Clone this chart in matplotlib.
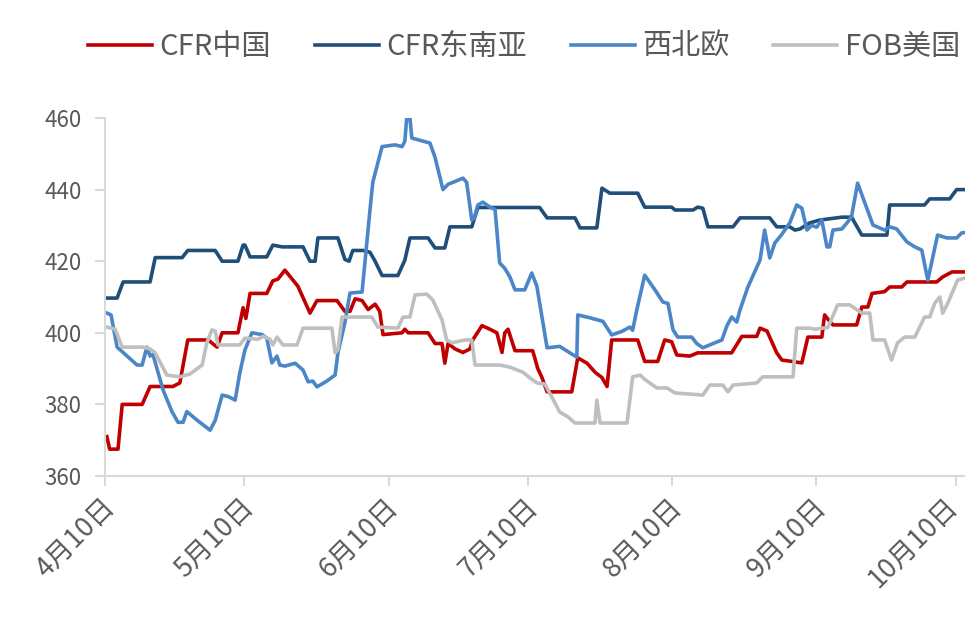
import matplotlib
matplotlib.use("Agg")
import matplotlib.pyplot as plt
from matplotlib.transforms import ScaledTranslation

plt.rcParams['font.family'] = ['Noto Sans CJK SC', 'DejaVu Sans']

# x values: days since 4月10日
tick_days = [0, 30, 61, 91, 122, 153, 183]
tick_labels = ["4月10日", "5月10日", "6月10日", "7月10日", "8月10日", "9月10日", "10月10日"]
y_ticks = [360, 380, 400, 420, 440, 460]

cn_days = [0.4, 1, 2.8, 3.7, 8, 9.7, 14.6, 16.1, 17.8, 22.2, 24.1, 25.2, 28.6, 29.7, 30.3, 31.2,
           34.8, 36.1, 37.2, 38.7, 41.5, 44.1, 45.6, 49.9, 51.6, 52.7, 53.8, 55.3, 56.6, 58.1,
           59.1, 59.8, 63.9, 64.5, 65.2, 69.5, 71, 72.5, 73.1, 73.8, 75.3, 77, 78.5, 79.1, 81.1,
           82.8, 84.3, 85.4, 86, 86.7, 88.2, 92, 93.1, 94, 95.1, 100.4, 101.7, 103.7, 105.4,
           106.9, 108, 109, 114.6, 116.1, 118.9, 120.4, 121.9, 123, 125.8, 127.5, 134.8, 137,
           140.2, 140.9, 142.4, 144.5, 145.6, 149.9, 151.2, 154.2, 154.8, 156, 156.6, 161.7,
           162.8, 164.1, 165, 167.7, 168.8, 171.4, 172.5, 178.9, 180.2, 182.2, 185]
cn_vals = [371, 367.5, 367.5, 380, 380, 385, 385, 386, 398, 398, 396, 400, 400, 407, 404, 411,
           411, 414.5, 415, 417.5, 413, 405.5, 409, 409, 406, 406, 409.5, 409, 406.5, 408,
           406, 399.5, 400, 401, 400, 400, 397, 397, 391.5, 397, 395.5, 394.5, 395.5, 398, 402,
           401, 400, 394.5, 400, 401, 395, 395, 390, 387.5, 383.5, 383.5, 393, 391.5, 389,
           387.5, 385, 398, 398, 392, 392, 398, 397.5, 393.8, 393.5, 394.4, 394.4, 399,
           399, 401.3, 400.5, 394.4, 392.4, 391.6, 398.8, 398.8, 405, 403, 402.2, 402.2,
           407.2, 407.2, 411, 411.5, 412.8, 412.8, 414.2, 414.2, 415.6, 417, 417]

sea_days = [0.4, 2.6, 3.9, 9.7, 10.8, 16.6, 17.8, 23.7, 25.2, 28.6, 29.7, 30.1, 31.2, 34.8, 36.1,
            38.1, 42.6, 44.1, 45.2, 45.8, 50.1, 51.6, 52.5, 53.3, 55.5, 57, 58.1, 59.6, 63,
            64.5, 65.6, 69.5, 71, 73.1, 74.2, 78.9, 80.2, 93.5, 95.1, 101.1, 102.2, 105.8,
            106.9, 108.6, 114.6, 116.1, 121.9, 122.6, 126.5, 127.5, 128.6, 129.7, 135.1, 136.6,
            143, 144.5, 147.3, 148.4, 149.5, 151.6, 153.8, 158.5, 160.6, 162.8, 168.2, 168.8,
            176.3, 177.4, 181.7, 183.2, 185]
sea_vals = [409.7, 409.7, 414.2, 414.2, 421, 421, 423, 423, 420, 420, 424.5, 424.5, 421.2, 421.2, 424.5,
            424, 424, 420, 420, 426.5, 426.5, 420.5, 420, 423, 423, 422.5, 420, 416, 416,
            420.3, 426.5, 426.5, 423.7, 423.7, 429.6, 429.6, 435, 435, 432.1, 432.1, 429.3, 429.3,
            440.4, 439, 439, 435.1, 435.1, 434.3, 434.3, 435.1, 434.8, 429.6, 429.6, 432.1,
            432.1, 429.6, 429.6, 428.7, 429, 430.7, 431.5, 432.3, 432.3, 427.3, 427.3, 435.7,
            435.7, 437.4, 437.4, 440, 440]

nwe_days = [0.4, 1.3, 2.6, 3.9, 6.9, 8, 9, 9.7, 10.3, 12.5, 14.4, 15.7, 16.8, 17.6, 19.8, 22.6,
            23.7, 25.2, 26.5, 28, 29, 30.1, 31.6, 33.8, 34.8, 35.9, 37, 37.6, 38.7, 40.9, 42.6,
            43.7, 44.7, 45.6, 47.7, 49.5, 50.1, 51.6, 52.7, 55.3, 55.9, 57, 57.6, 59.6, 62.4,
            63.9, 64.5, 64.9, 65.6, 66, 67.1, 69.9, 71, 72.7, 73.8, 74.8, 77, 77.8, 78.9, 79.4,
            80.2, 81.3, 82.8, 83.9, 84.9, 86, 87.1, 88.2, 90.3, 91.8, 92.9, 95.1, 97.8, 101.5,
            101.7, 104.3, 106, 107.1, 109, 111.2, 112.9, 113.5, 114.4, 116.1, 118.3, 120, 121.1,
            122.2, 123.2, 126.2, 127.3, 128.6, 130.8, 132.7, 133.8, 134.8, 135.9, 136.6, 138.3,
            140.9, 141.9, 143, 144.1, 145.6, 147.3, 148.8, 149.9, 151, 152, 153.1, 154.2, 155.3,
            155.9, 156.6, 158.5, 159.8, 160.6, 161.9, 163.4, 165.2, 167.7, 168.8, 170.3, 172.5,
            174.2, 175.7, 177, 179.1, 181.1, 183.2, 184.3, 185]
nwe_vals = [405.5, 405, 396, 394.5, 391, 391, 396, 393.5, 394, 384, 378, 375, 375, 378, 375.6, 372.8,
            375.5, 382.6, 382.2, 381.2, 388.8, 395.2, 400, 399.5, 398.5, 391.6, 393.5, 391, 390.7, 391.5, 389.6,
            386.3, 386.5, 384.9, 386.5, 388.2, 394.4, 402.8, 411.1, 411.4, 419.5, 434.3, 442, 452, 452.5,
            452, 453.5, 460, 460, 454.4, 454, 453, 449, 440, 441.5, 442, 443.2, 442, 431.5, 432,
            435.7, 436.5, 435.1, 434.5, 419.5, 418, 415.6, 412, 412, 416.7, 413, 395.8, 396.2, 393.2,
            405, 404.2, 403.6, 403.2, 399.4, 400.4, 401.6, 400.7, 406.4, 416.1, 412, 408.6, 408.2,
            400.8, 398.8, 398.8, 397, 395.8, 397, 398, 402, 404.4, 403, 406.4, 412.8,
            420.3, 428.7, 420.9, 425.1, 427.5, 430.7, 435.7, 434.8, 428.7, 430, 429.5, 431.5, 424,
            424, 428.7, 429, 431, 432.5, 441.8, 436.5, 430.1, 428.7, 429.6, 429, 425.4,
            424, 423.1, 414.7, 427.3, 426.5, 426.5, 427.9, 428]

us_days = [0.4, 2.2, 3.7, 8.2, 9.7, 10.8, 13.3, 16.1, 18.3, 20.9, 21.9, 23, 23.7, 24.3, 29, 30.1,
           32.9, 34, 35.5, 36.1, 37, 38.3, 41.3, 42.6, 48.8, 49.5, 50.1, 51, 57.4, 58.7, 63, 64.1,
           65.6, 66.7, 69.2, 70.5, 72.5, 73.5, 74.6, 77.4, 78.9, 79.6, 84.9, 87.1, 89.9, 91.4,
           92.9, 94.6, 96.1, 97.8, 99.6, 101.1, 105.4, 105.8, 106.5, 112.3, 113.5, 115.1, 116.1,
           118.7, 120.9, 122.6, 128.6, 130.1, 132.9, 134, 135.1, 140.2, 141.5, 148, 148.8, 151.6,
           152.7, 155.5, 157.6, 160.2, 162.8, 164.5, 165.2, 167.7, 169.2, 170.5, 172, 174.2,
           176.3, 177.4, 178.5, 179.6, 180.2, 181.3, 183.4, 185]
us_vals = [401.6, 401, 396, 396, 395.5, 394.4, 388.2, 387.7, 388.5, 391, 397.2, 400.8, 400.5, 396.6, 396.6, 398.5,
           398.2, 399, 398.2, 396.6, 398.8, 396.6, 396.6, 401.3, 401.3, 394.4, 395.2, 404.4, 404.4, 401.6, 401.3, 404.4,
           404.4, 410.6, 410.8, 409.2, 403.6, 398, 397.2, 398, 398, 391, 391, 390.4, 389, 387.4,
           386, 385.7, 382.1, 377.9, 376.5, 374.8, 374.8, 381.2, 374.8, 374.8, 387.7, 388.2, 387,
           384.6, 384.6, 383.2, 382.6, 385.4, 385.4, 383.5, 385.4, 386, 387.7, 387.7, 401.3, 401.3,
           401, 401.5, 407.8, 407.8, 405.5, 405.5, 398, 398, 392.4, 397.2, 398.8, 398.8,
           404.4, 404.4, 408.3, 410, 405.5, 408.3, 414.7, 415.3]

series_names = ["CFR中国", "CFR东南亚", "西北欧", "FOB美国"]
colors = ["#C00000", "#1F4E79", "#4A86C8", "#BFBFBF"]

fig = plt.figure(figsize=(9.65, 6.21), dpi=100)
ax = fig.add_axes([105/965, 1-476/621, 860/965, 358/621])

data = [(cn_days, cn_vals), (sea_days, sea_vals), (nwe_days, nwe_vals), (us_days, us_vals)]
for (d, v), name, c in zip(data, series_names, colors):
    ax.plot(d, v, color=c, lw=2.6, label=name, solid_joinstyle='round')

ax.set_xlim(0, 185)
ax.set_ylim(360, 460)
ax.set_yticks(y_ticks)
ax.set_xticks(tick_days)
ax.set_xticklabels([])
for i, (d, lab) in enumerate(zip(tick_days, tick_labels)):
    dx = 3 if i == len(tick_days) - 1 else 11
    tr = ax.get_xaxis_transform() + ScaledTranslation(dx/100, -32/100, fig.dpi_scale_trans)
    ax.text(d, 0, lab, transform=tr, rotation=45, ha='right', va='baseline',
            rotation_mode='anchor', fontsize=19.5, color='#595959', clip_on=False)
for s in ['top', 'right']:
    ax.spines[s].set_visible(False)
for s in ['left', 'bottom']:
    ax.spines[s].set_color('#D9D9D9')
    ax.spines[s].set_linewidth(1.5)
ax.tick_params(axis='both', colors='#D9D9D9', length=7, width=1.5, labelcolor='#595959')
ax.tick_params(axis='y', labelsize=16, pad=10)

fig.legend(loc='center', bbox_to_anchor=(524/965, 1-47/621), ncol=4, frameon=False,
           fontsize=21, handlelength=2.2, columnspacing=1.5, handletextpad=0.25,
           labelcolor='#595959')

fig.savefig("out.png", dpi=100)
